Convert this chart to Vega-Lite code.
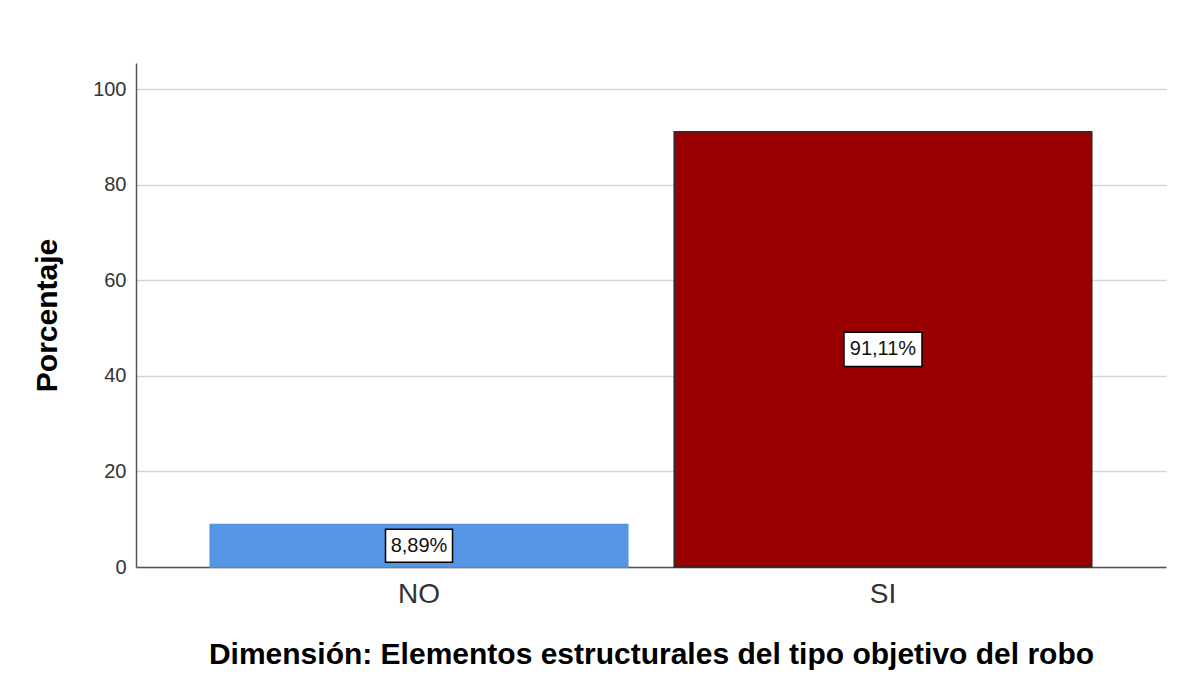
{
  "$schema": "https://vega.github.io/schema/vega-lite/v6.json",
  "width": 1030,
  "height": 504,
  "autosize": {"type": "none"},
  "padding": {"left": 136, "top": 63, "right": 13, "bottom": 128},
  "background": "white",
  "data": {
    "values": [
      {"cat": "NO", "pct": 8.89, "label": "8,89%"},
      {"cat": "SI", "pct": 91.11, "label": "91,11%"}
    ]
  },
  "encoding": {
    "x": {
      "field": "cat",
      "type": "nominal",
      "sort": ["NO", "SI"],
      "scale": {"paddingInner": 0.1, "paddingOuter": 0.16},
      "axis": {
        "title": "Dimensión: Elementos estructurales del tipo objetivo del robo",
        "labelAngle": 0,
        "ticks": false,
        "domainColor": "#555555",
        "domainWidth": 1.5,
        "labelFont": "Liberation Sans",
        "labelFontSize": 28,
        "labelColor": "#333333",
        "labelPadding": 13,
        "titleFont": "Liberation Sans",
        "titleFontSize": 30,
        "titleFontWeight": "bold",
        "titleColor": "#000000",
        "titlePadding": 31,
        "grid": false
      }
    }
  },
  "layer": [
    {
      "mark": {"type": "bar", "strokeWidth": 1.5},
      "encoding": {
        "y": {
          "field": "pct",
          "type": "quantitative",
          "scale": {"domain": [0, 105.5], "nice": false},
          "axis": {
            "values": [0, 20, 40, 60, 80, 100],
            "grid": true,
            "gridColor": "#d6d6d6",
            "gridWidth": 1.5,
            "domainColor": "#555555",
            "domainWidth": 1.5,
            "ticks": false,
            "labelFont": "Liberation Sans",
            "labelFontSize": 20,
            "labelColor": "#333333",
            "labelPadding": 10,
            "title": "Porcentaje",
            "titleFont": "Liberation Sans",
            "titleFontSize": 30,
            "titleFontWeight": "bold",
            "titleColor": "#000000",
            "titlePadding": 30
          }
        },
        "color": {
          "field": "cat",
          "type": "nominal",
          "scale": {"domain": ["NO", "SI"], "range": ["#5595E4", "#990000"]},
          "legend": null
        },
        "stroke": {
          "field": "cat",
          "type": "nominal",
          "scale": {"domain": ["NO", "SI"], "range": ["#5595E4", "#2a2a2a"]},
          "legend": null
        }
      }
    },
    {
      "mark": {"type": "point", "filled": true, "fill": "white", "stroke": "black", "strokeWidth": 1.5, "opacity": 1, "size": 6084},
      "encoding": {
        "y": {
          "field": "pct",
          "type": "quantitative",
          "scale": {"domain": [0, 211], "nice": false},
          "axis": null
        },
        "shape": {
          "field": "cat",
          "type": "nominal",
          "scale": {
            "domain": ["NO", "SI"],
            "range": [
              "M-0.859,-0.423L0.859,-0.423L0.859,0.423L-0.859,0.423Z",
              "M-1,-0.436L1,-0.436L1,0.436L-1,0.436Z"
            ]
          },
          "legend": null
        }
      }
    },
    {
      "mark": {"type": "text", "font": "Liberation Sans", "fontSize": 20, "color": "#111111", "align": "center", "baseline": "middle"},
      "encoding": {
        "y": {
          "field": "pct",
          "type": "quantitative",
          "scale": {"domain": [0, 211], "nice": false},
          "axis": null
        },
        "text": {"field": "label"}
      }
    }
  ],
  "resolve": {"scale": {"y": "independent"}},
  "config": {"view": {"stroke": null}}
}
